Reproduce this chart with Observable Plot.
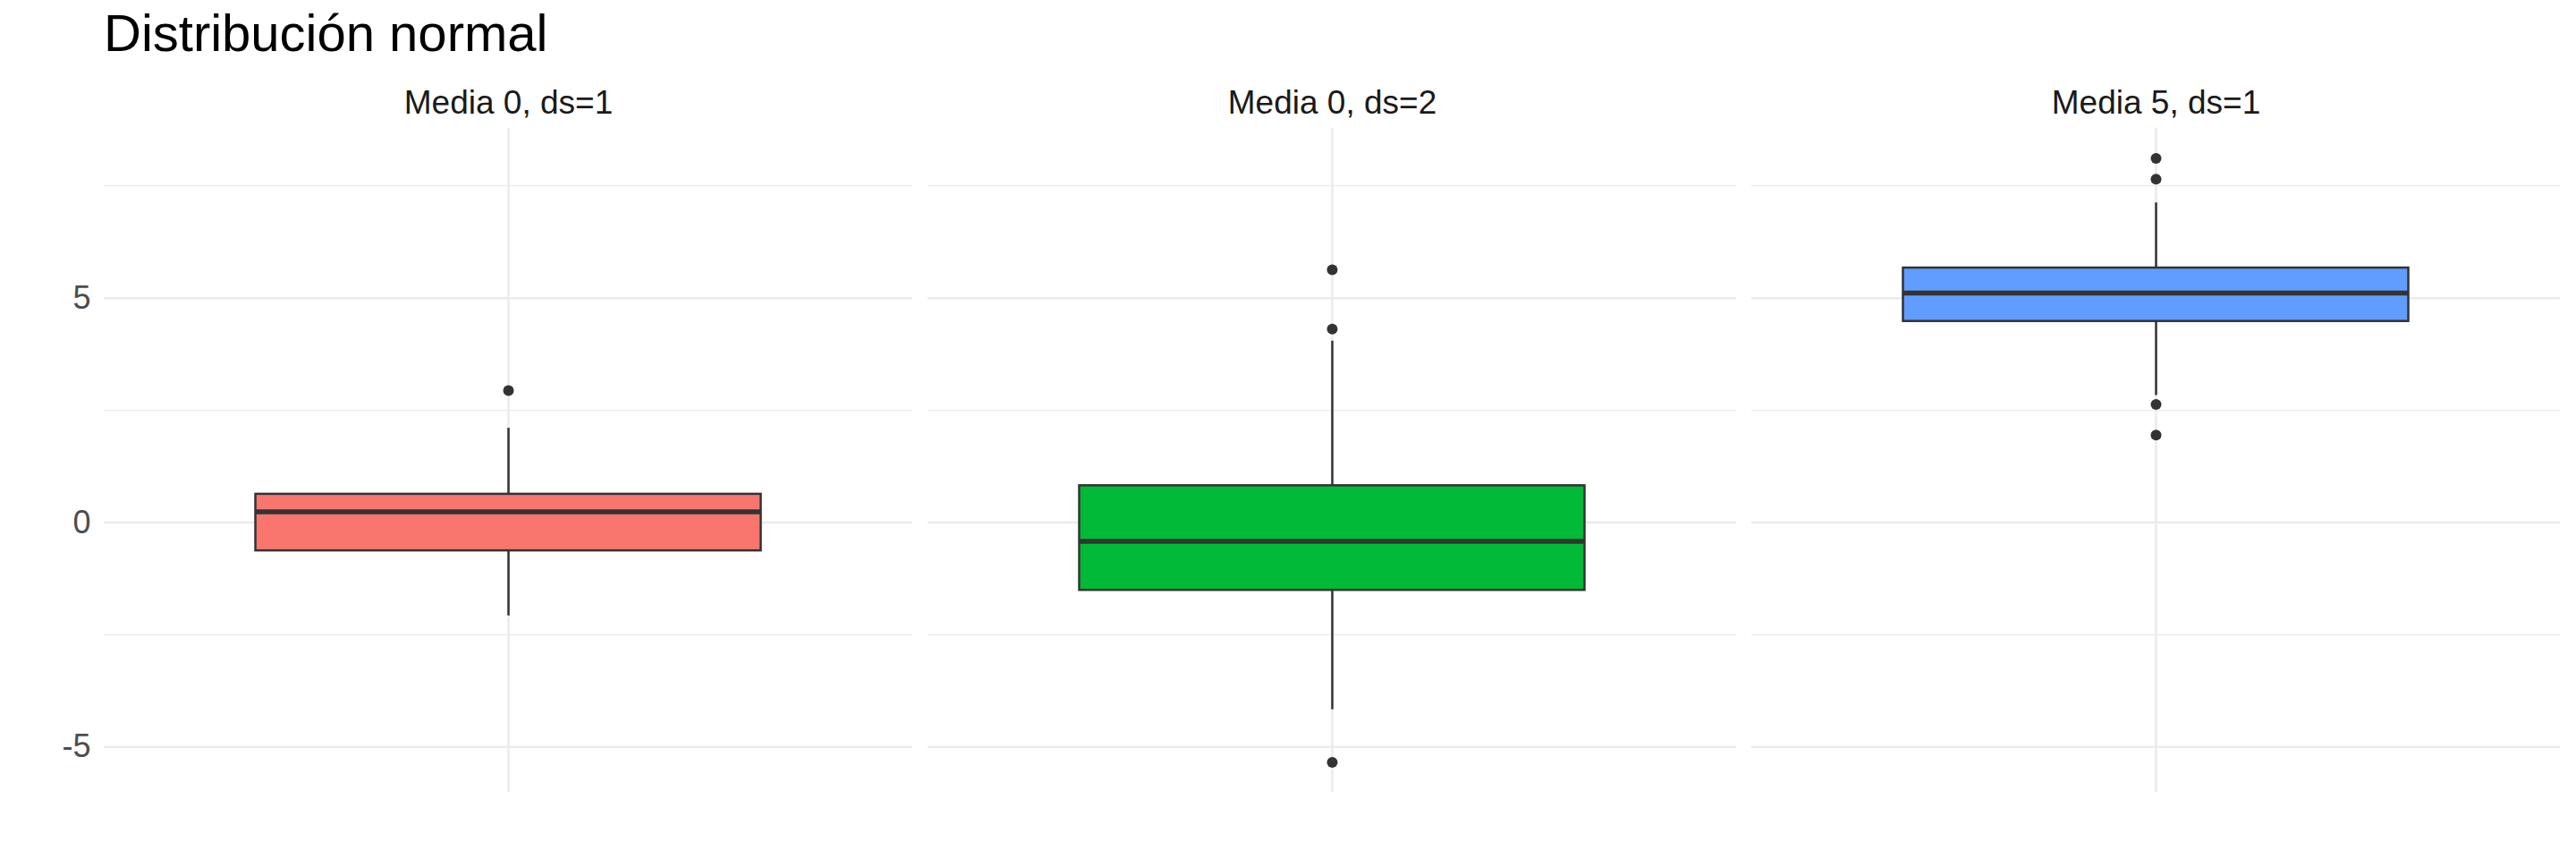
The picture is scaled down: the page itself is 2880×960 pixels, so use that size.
<!DOCTYPE html>
<html>
<head>
<meta charset="utf-8">
<script src="https://cdn.jsdelivr.net/npm/d3@7"></script>
<script src="https://cdn.jsdelivr.net/npm/@observablehq/plot@0.6"></script>
<style>
  html, body { margin: 0; padding: 0; background: #ffffff; }
  body { width: 2880px; height: 960px; overflow: hidden; font-family: "Liberation Sans", Arial, Helvetica, sans-serif; }
  #title { height: 75px; position: relative; }
  #title span { position: absolute; left: 116px; top: 8px; font-size: 58px; color: #000000; line-height: 1; white-space: nowrap; }
  #chart svg [aria-label^="y-axis"] text { fill: #4D4D4D; font-size: 36px; }
  #chart svg [aria-label^="fx-axis"] text { fill: #1A1A1A; font-size: 37px; }
</style>
</head>
<body>
<div id="title"><span>Distribución normal</span></div>
<div id="chart"></div>
<script>
// ---- data ----
const groups = ["Media 0, ds=1", "Media 0, ds=2", "Media 5, ds=1"];
const fillColors = ["#F8766D", "#00BA38", "#619CFF"];
const whiskerLow = [-2.08, -4.17, 2.83];
const q1 = [-0.63, -1.51, 4.48];
const median = [0.24, -0.42, 5.11];
const q3 = [0.63, 0.82, 5.67];
const whiskerHigh = [2.10, 4.04, 7.12];
const outliers = [[2.94], [5.63, 4.31, -5.34], [8.11, 7.65, 2.63, 1.95]];
const majorTicks = [-5, 0, 5];
const minorTicks = [-2.5, 2.5, 7.5];
const yDomain = [-6.01, 8.78];

// ---- tables for the library ----
const stats = groups.map((g, i) => ({
  group: g, fill: fillColors[i],
  lo: whiskerLow[i], q1: q1[i], med: median[i], q3: q3[i], hi: whiskerHigh[i]
}));
const outlierRows = groups.flatMap((g, i) => outliers[i].map(v => ({group: g, value: v})));

const halfBox = 0.375;
const boxStroke = "#333333";
const gridColor = "#EBEBEB";

const chart = Plot.plot({
  width: 2880,
  height: 885,
  marginTop: 68,
  marginBottom: 75,
  marginLeft: 116,
  marginRight: 18,
  style: {fontFamily: "'Liberation Sans', Arial, Helvetica, sans-serif", fontSize: "36px", background: "#ffffff"},
  fx: {domain: groups, axis: "top", label: null, tickSize: 0, tickPadding: 17, paddingInner: 0.01846, paddingOuter: 0},
  x: {domain: [-0.6, 0.6], axis: null},
  y: {domain: yDomain, ticks: majorTicks, tickFormat: d => String(d), tickSize: 0, tickPadding: 15, label: null},
  marks: [
    Plot.ruleY(minorTicks, {stroke: gridColor, strokeWidth: 1.3}),
    Plot.ruleY(majorTicks, {stroke: gridColor, strokeWidth: 2.5}),
    Plot.ruleX([0], {stroke: gridColor, strokeWidth: 2.5}),
    Plot.ruleX(stats, {fx: "group", x: () => 0, y1: "lo", y2: "q1", stroke: boxStroke, strokeWidth: 2.5}),
    Plot.ruleX(stats, {fx: "group", x: () => 0, y1: "q3", y2: "hi", stroke: boxStroke, strokeWidth: 2.5}),
    Plot.rect(stats, {fx: "group", x1: () => -halfBox, x2: () => halfBox, y1: "q1", y2: "q3", fill: d => d.fill, stroke: boxStroke, strokeWidth: 2.5}),
    Plot.ruleY(stats, {fx: "group", y: "med", x1: () => -halfBox, x2: () => halfBox, stroke: boxStroke, strokeWidth: 5.5}),
    Plot.dot(outlierRows, {fx: "group", x: () => 0, y: "value", r: 6, fill: boxStroke, stroke: "none"})
  ]
});
document.getElementById("chart").appendChild(chart);
</script>
</body>
</html>
